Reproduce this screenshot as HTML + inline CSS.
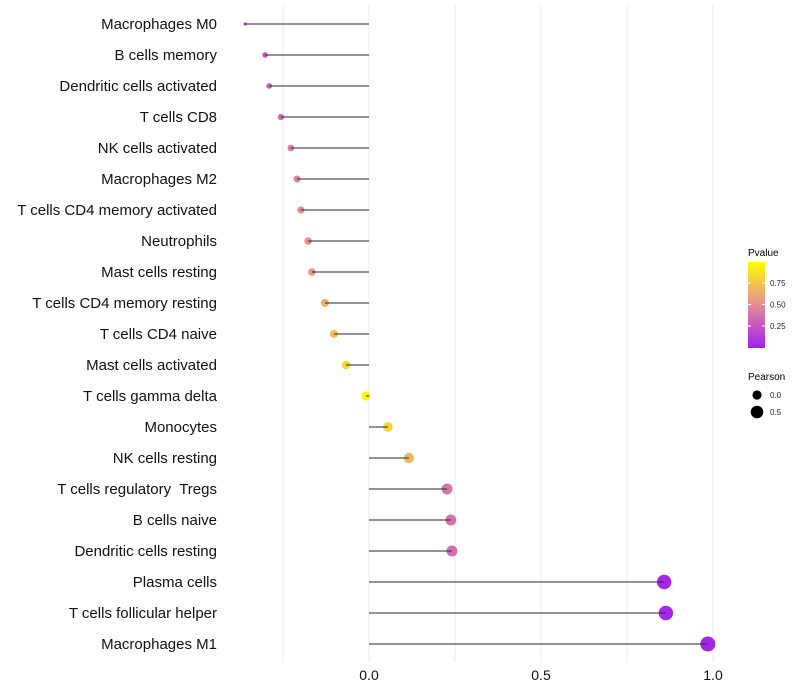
<!DOCTYPE html>
<html><head><meta charset="utf-8"><style>
html,body{margin:0;padding:0;background:#fff;}
svg{display:block;font-family:"Liberation Sans",sans-serif;}
#ylab text{white-space:pre;}
</style></head><body>
<svg id="chart" width="800" height="700" viewBox="0 0 800 700">
<defs><linearGradient id="pg" x1="0" y1="1" x2="0" y2="0">
<stop offset="0" stop-color="#a020f0"/><stop offset="0.5" stop-color="#e48c96"/><stop offset="1" stop-color="#ffff00"/></linearGradient></defs>
<g id="grid"></g>
<g id="marks"></g>
<g id="ylab"></g>
<g id="xlab"></g>
<g>
<text x="748" y="256" font-size="10">Pvalue</text>
<rect x="748" y="262" width="17" height="86" fill="url(#pg)"/>
<line x1="748" x2="751" y1="283" y2="283" stroke="#fff"/><line x1="762" x2="765" y1="283" y2="283" stroke="#fff"/>
<line x1="748" x2="751" y1="304.5" y2="304.5" stroke="#fff"/><line x1="762" x2="765" y1="304.5" y2="304.5" stroke="#fff"/>
<line x1="748" x2="751" y1="326" y2="326" stroke="#fff"/><line x1="762" x2="765" y1="326" y2="326" stroke="#fff"/>
<text x="770" y="286" font-size="8" fill="#222">0.75</text>
<text x="770" y="307.5" font-size="8" fill="#222">0.50</text>
<text x="770" y="329" font-size="8" fill="#222">0.25</text>
</g>
<g>
<text x="748" y="380" font-size="10">Pearson</text>
<circle cx="757" cy="395" r="4.6" fill="#000"/>
<circle cx="757" cy="412" r="6.3" fill="#000"/>
<text x="770" y="398" font-size="8" fill="#222">0.0</text>
<text x="770" y="415" font-size="8" fill="#222">0.5</text>
</g>
</svg>
<script>
const categories=["Macrophages M0","B cells memory","Dendritic cells activated","T cells CD8","NK cells activated","Macrophages M2","T cells CD4 memory activated","Neutrophils","Mast cells resting","T cells CD4 memory resting","T cells CD4 naive","Mast cells activated","T cells gamma delta","Monocytes","NK cells resting","T cells regulatory  Tregs","B cells naive","Dendritic cells resting","Plasma cells","T cells follicular helper","Macrophages M1"];
const pearson=[-0.36,-0.302,-0.29,-0.256,-0.227,-0.209,-0.198,-0.177,-0.166,-0.128,-0.102,-0.067,-0.009,0.055,0.116,0.227,0.238,0.241,0.858,0.863,0.985];
const pvalue=[0.05,0.25,0.3,0.35,0.42,0.45,0.48,0.52,0.55,0.66,0.74,0.83,0.97,0.82,0.68,0.4,0.38,0.37,0.03,0.03,0.02];
const xTicks=[0,0.5,1];
const xTickLabels=["0.0","0.5","1.0"];
const gridVals=[-0.25,0,0.25,0.5,0.75,1];
const NS="http://www.w3.org/2000/svg";
const x=v=>369+v*344;
const y=i=>24+i*31;
const pmin=Math.min(...pearson),pmax=Math.max(...pearson);
const rad=v=>1.5+6*Math.sqrt((v-pmin)/(pmax-pmin));
function lerp(a,b,t){return a.map((c,k)=>Math.round(c+(b[k]-c)*t));}
function col(p){const A=[160,32,240],M=[228,140,150],B=[255,255,0];
 const c=p<0.5?lerp(A,M,p/0.5):lerp(M,B,(p-0.5)/0.5);return `rgb(${c})`;}
function mk(t,a,parent){const e=document.createElementNS(NS,t);for(const k in a)e.setAttribute(k,a[k]);parent.appendChild(e);return e;}
const grid=document.getElementById('grid'),marks=document.getElementById('marks'),ylab=document.getElementById('ylab'),xlab=document.getElementById('xlab');
gridVals.forEach(v=>{const l=mk('line',{x1:x(v),x2:x(v),y1:5,y2:662,stroke:'#ebebeb','stroke-width':1},grid);

});
categories.forEach((c,i)=>{
 const d=mk('circle',{cx:x(pearson[i]),cy:y(i),r:rad(pearson[i]),fill:col(pvalue[i])},marks);
 
 
 const s=mk('line',{x1:x(0),x2:x(pearson[i]),y1:y(i),y2:y(i),stroke:'#333','stroke-width':1.2,opacity:0.85},marks);
 
 
 const t=mk('text',{x:217,y:y(i)+5,'text-anchor':'end','font-size':15,fill:'#111'},ylab);
 t.textContent=c;
 
 
});
xTicks.forEach((v,i)=>{const t=mk('text',{x:x(v),y:680,'text-anchor':'middle','font-size':14,fill:'#111'},xlab);
 t.textContent=xTickLabels[i];
 
 });
</script>
</body></html>
